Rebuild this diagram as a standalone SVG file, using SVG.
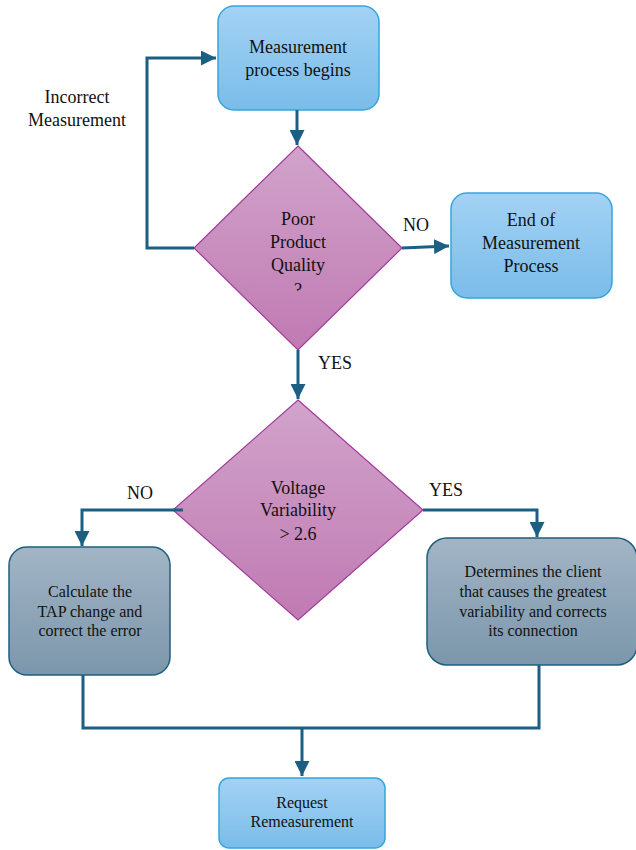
<svg xmlns="http://www.w3.org/2000/svg" width="636" height="850" viewBox="0 0 636 850">
<defs>
<linearGradient id="gBlue" x1="0" y1="0" x2="0" y2="1"><stop offset="0" stop-color="#a3d2f4"/><stop offset="1" stop-color="#7abce9"/></linearGradient>
<linearGradient id="gPink" x1="0" y1="0" x2="0" y2="1"><stop offset="0" stop-color="#d1a3cb"/><stop offset="1" stop-color="#c07ab2"/></linearGradient>
<linearGradient id="gGray" x1="0" y1="0" x2="0" y2="1"><stop offset="0" stop-color="#a2b5c5"/><stop offset="1" stop-color="#7b96ab"/></linearGradient>
<marker id="arr" viewBox="0 0 10 10" refX="10" refY="5" markerWidth="5" markerHeight="5" orient="auto" markerUnits="strokeWidth"><path d="M0,0 L10,5 L0,10 Z" fill="#1b5f82"/></marker>
<clipPath id="qclip"><rect x="280" y="270" width="40" height="21"/></clipPath>
</defs>
<style>
.blue{fill:url(#gBlue);stroke:#35a6dc;stroke-width:1.5}
.pink{fill:url(#gPink);stroke:#a2399c;stroke-width:1.2}
.gray{fill:url(#gGray);stroke:#1f5f80;stroke-width:1.5}
.c{fill:none;stroke:#1b5f82;stroke-width:3}
text{font-family:"Liberation Serif","Times New Roman",serif;fill:#111;text-anchor:middle}
.l{font-size:18px}
.s{font-size:16px}
.lab{font-size:18px}
</style>
<g id="label-incorrect"><text class="lab" x="77" y="103">Incorrect</text><text class="lab" x="77" y="126">Measurement</text></g>
<g id="n1"><rect class="blue" x="218" y="6" width="161" height="104" rx="16"/><text class="l" x="298" y="53">Measurement</text><text class="l" x="298" y="76">process begins</text></g>
<g id="n2"><polygon class="pink" points="298,146 402,248 298,350 194,248"/><text class="l" x="298" y="225">Poor</text><text class="l" x="298" y="248">Product</text><text class="l" x="298" y="271">Quality</text><text class="l" x="298" y="296" clip-path="url(#qclip)">?</text></g>
<g id="label-no1"><text class="lab" x="416" y="231">NO</text></g>
<g id="n3"><rect class="blue" x="451" y="193" width="161" height="105" rx="16"/><text class="l" x="531" y="226">End of</text><text class="l" x="531" y="249">Measurement</text><text class="l" x="531" y="272">Process</text></g>
<g id="label-yes1"><text class="lab" x="335" y="369">YES</text></g>
<g id="n4"><polygon class="pink" points="298,400 423,510 298,620 173,510"/><text class="l" x="298" y="494">Voltage</text><text class="l" x="298" y="516">Variability</text><text class="l" x="298" y="540">&gt; 2.6</text></g>
<g id="label-no2"><text class="lab" x="140" y="499">NO</text></g>
<g id="label-yes2"><text class="lab" x="446" y="496">YES</text></g>
<g id="n5"><rect class="gray" x="9" y="547" width="161" height="128" rx="18"/><text class="s" x="90" y="597">Calculate the</text><text class="s" x="90" y="617">TAP change and</text><text class="s" x="90" y="636">correct the error</text></g>
<g id="n6"><rect class="gray" x="427" y="538" width="210" height="127" rx="20"/><text class="s" x="533" y="577">Determines the client</text><text class="s" x="533" y="597">that causes the greatest</text><text class="s" x="533" y="617">variability and corrects</text><text class="s" x="533" y="636">its connection</text></g>
<g id="n7"><rect class="blue" x="219" y="778" width="166" height="70" rx="10"/><text class="s" x="302" y="808">Request</text><text class="s" x="302" y="827">Remeasurement</text></g>
<g id="connectors">
<path class="c" d="M194,248 H147 V58 H216" marker-end="url(#arr)"/>
<path class="c" d="M297,110 V145" marker-end="url(#arr)"/>
<path class="c" d="M402,248 L449,246" marker-end="url(#arr)"/>
<path class="c" d="M298,350 V399" marker-end="url(#arr)"/>
<path class="c" d="M183,510 H82 V546" marker-end="url(#arr)"/>
<path class="c" d="M423,510 H537 V537" marker-end="url(#arr)"/>
<path class="c" d="M83,675 V728 H539 V665"/>
<path class="c" d="M302,728 V776" marker-end="url(#arr)"/>
</g>
</svg>
